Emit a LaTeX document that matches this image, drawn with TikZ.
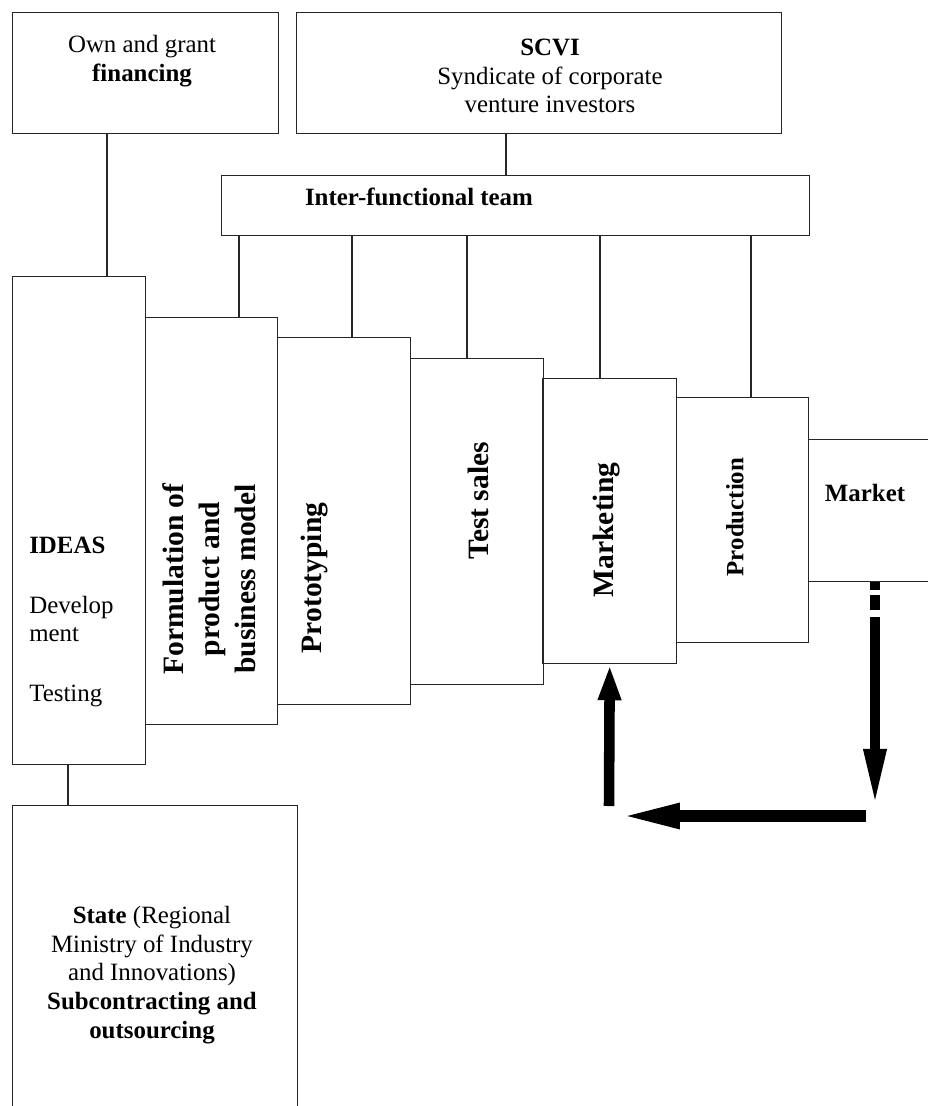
\documentclass[tikz,border=0pt]{standalone}
\usepackage{fontspec}
\setmainfont{Liberation Serif}
\usetikzlibrary{arrows.meta}

% one box of the scheme: name, top-left x, top-left y, width, height
\newcommand{\stagebox}[5]{\node [box, minimum width=#4*0.025cm, minimum height=#5*0.025cm] (#1) at (#2,#3) {}}

\tikzset{
    box/.style={draw=black!85, line width=1pt, inner sep=0pt, anchor=north west},
    link/.style={draw=black!85, line width=1pt},
    txt/.style={font=\fontsize{17.7}{20.5}\selectfont, align=center, inner sep=0pt},
    vtxt/.style={font=\fontsize{21}{25.5}\selectfont\bfseries, align=center, inner sep=0pt, rotate=90},
    flow/.style={line width=7.5pt},
}

\begin{document}
\begin{tikzpicture}[x=0.025cm, y=-0.025cm]
    \useasboundingbox (0,0) rectangle (928,1106);
    \clip (0,0) rectangle (928,1106);

    % sources of money
    \stagebox{fin}{12}{12}{266}{121};
    \node [txt] (fintxt) at (142,61) {Own and grant\\\textbf{financing}};

    \stagebox{scvi}{296}{12}{485}{121};
    \node [txt] (scvitxt) at (550,76) {\textbf{SCVI}\\Syndicate of corporate\\venture investors};

    \stagebox{team}{221}{175}{588}{60};
    \node [txt, font=\fontsize{17.7}{20.5}\selectfont\bfseries] (teamtxt) at (419,197) {Inter-functional team};

    % the staircase of stages
    \stagebox{ideas}{12}{276}{133}{488};
    \node [txt, align=left, anchor=west] (ideastxt) at (29,622) {\textbf{IDEAS}\\[22pt]Develop\\ment\\[22pt]Testing};

    \stagebox{form}{145}{317}{132}{407};
    \node [vtxt] (formtxt) at (209,579) {Formulation of\\product and\\business model};

    \stagebox{proto}{277}{337}{133}{367};
    \node [vtxt] (prototxt) at (315,578) {Prototyping};

    \stagebox{test}{410}{358}{133}{326};
    \node [vtxt] (testtxt) at (478,501) {Test sales};

    \stagebox{mark}{542}{378}{134}{285};
    \node [vtxt] (marktxt) at (607,530) {Marketing};

    \stagebox{prod}{676}{397}{132}{245};
    \node [vtxt, font=\fontsize{17.7}{20.5}\selectfont\bfseries] (prodtxt) at (735,517) {Production};

    \stagebox{market}{808}{439}{140}{142};
    \node [txt, font=\fontsize{17.7}{20.5}\selectfont\bfseries] (markettxt) at (865,493) {Market};

    \stagebox{state}{12}{805}{285}{330};
    \node [txt] (statetxt) at (152,975) {\textbf{State} (Regional\\Ministry of Industry\\and Innovations)\\\textbf{Subcontracting and}\\\textbf{outsourcing}};

    % thin links
    \draw [link] (107,0 |- fin.south) -- (107,0 |- ideas.north);
    \draw [link] (506,0 |- scvi.south) -- (506,0 |- team.north);
    \foreach \s/\x in {form/239, proto/352, test/467, mark/600, prod/751}
        \draw [link] (\x,0 |- team.south) -- (\x,0 |- \s.north);
    \draw [link] (68,0 |- ideas.south) -- (68,0 |- state.north);

    % feedback loop from the market back to marketing
    \coordinate (turnR) at (875,808);
    \coordinate (baseR) at (866,816);
    \coordinate (baseL) at (618,816);
    \coordinate (turnL) at (609,806);

    \draw [flow, dash pattern=on 5.7pt off 3pt on 10.7pt off 5.5pt on 400pt,
        -{Triangle[length=42pt, width=14.5pt]}] (875,0 |- market.south) -- (turnR);
    \draw [flow, line width=8.5pt, -{Triangle[length=44pt, width=16pt]}] (baseR) -- (baseL);
    \draw [flow, -{Triangle[length=25.5pt, width=15pt]}] (turnL) -- (mark.south);
\end{tikzpicture}
\end{document}
